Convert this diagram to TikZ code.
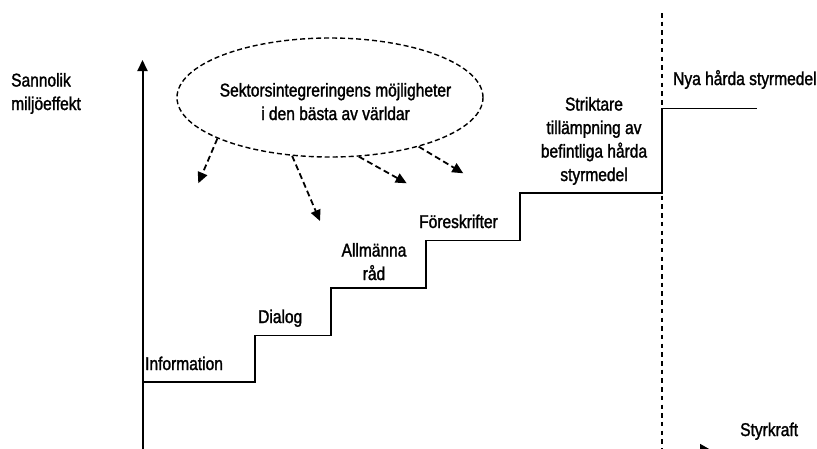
\documentclass[tikz,border=0pt]{standalone}
\usepackage{fontspec}
\setmainfont{Liberation Sans}[FakeStretch=0.84,FakeBold=1.5]
\usetikzlibrary{arrows.meta,shapes.geometric}
\begin{document}
\begin{tikzpicture}[x=1pt,y=-1pt,
  lbl/.style={inner sep=0pt, font=\fontsize{18.5}{23.5}\selectfont},
  axis/.style={line width=2pt, -{Triangle[length=11pt,width=10pt]}},
  stair/.style={line width=1.3pt, line join=miter},
  ptr/.style={line width=1.8pt, dash pattern=on 6pt off 3.5pt, -{Triangle[length=11pt,width=10pt]}},
  divider/.style={line width=1.8pt, dash pattern=on 4.5pt off 4.2pt},
  cloud/.style={draw, ellipse, inner sep=0pt, line width=1.4pt, dash pattern=on 5pt off 3pt}
]
\useasboundingbox (0,0) rectangle (817,448);
\clip (0,0) rectangle (817,448);

% staircase corners
\coordinate (s0) at (142.5,382);
\coordinate (s1) at (255,382);
\coordinate (s2) at (255,335.5);
\coordinate (s3) at (331,335.5);
\coordinate (s4) at (331,288);
\coordinate (s5) at (426,288);
\coordinate (s6) at (426,240.5);
\coordinate (s7) at (520,240.5);
\coordinate (s8) at (520,193);
\coordinate (s9) at (662,193);
\coordinate (s10) at (662,108.5);
\coordinate (s11) at (757,108.5);
\draw[stair] (s0) -- (s1) -- (s2) -- (s3) -- (s4) -- (s5) -- (s6) -- (s7) -- (s8) -- (s9) -- (s10) -- (s11);

% divider
\coordinate (dtop) at (662,13);
\coordinate (dbot) at (662,452);
\draw[divider] (dtop) -- (dbot);

% axes
\coordinate (yorig) at (142.5,452);
\coordinate (ytip) at (142.5,60);
\draw[axis] (yorig) -- (ytip);
\coordinate (xorig) at (142.5,450);
\coordinate (xtip) at (711,450);
\draw[line width=1.8pt, -{Triangle[length=11pt,width=12pt]}] (xorig) -- (xtip);

% ellipse
\node[cloud, minimum width=306pt, minimum height=119pt] (ell) at (330,97.5) {};
\node[lbl, anchor=base, align=center] (elltxt) at (335.5,120) {Sektorsintegreringens möjligheter\\i den bästa av världar};

\coordinate (t1) at (198.3,183.3);
\coordinate (t2) at (320,221);
\coordinate (t3) at (406.7,183.3);
\coordinate (t4) at (463.3,173.3);
\draw[ptr] (ell.200.5) -- (t1);
\draw[ptr] (ell.237.5) -- (t2);
\draw[ptr] (ell.296.2) -- (t3);
\draw[ptr] (ell.331.3) -- (t4);

% labels
\node[lbl, anchor=base west, align=left] (yl) at (11,110) {Sannolik\\miljöeffekt};
\node[lbl, anchor=base west] (info) at (145,370) {Information};
\node[lbl, anchor=base west] (dia) at (258,323) {Dialog};
\node[lbl, anchor=base, align=center] (allm) at (374,280) {Allmänna\\råd};
\node[lbl, anchor=base west] (fore) at (419,228) {Föreskrifter};
\node[lbl, anchor=base, align=center] (strikt) at (594,181) {Striktare\\tillämpning av\\befintliga hårda\\styrmedel};
\node[lbl, anchor=base west] (nya) at (673,85) {Nya hårda styrmedel};
\node[lbl, anchor=base west] (styr) at (740,436) {Styrkraft};
\end{tikzpicture}
\end{document}
